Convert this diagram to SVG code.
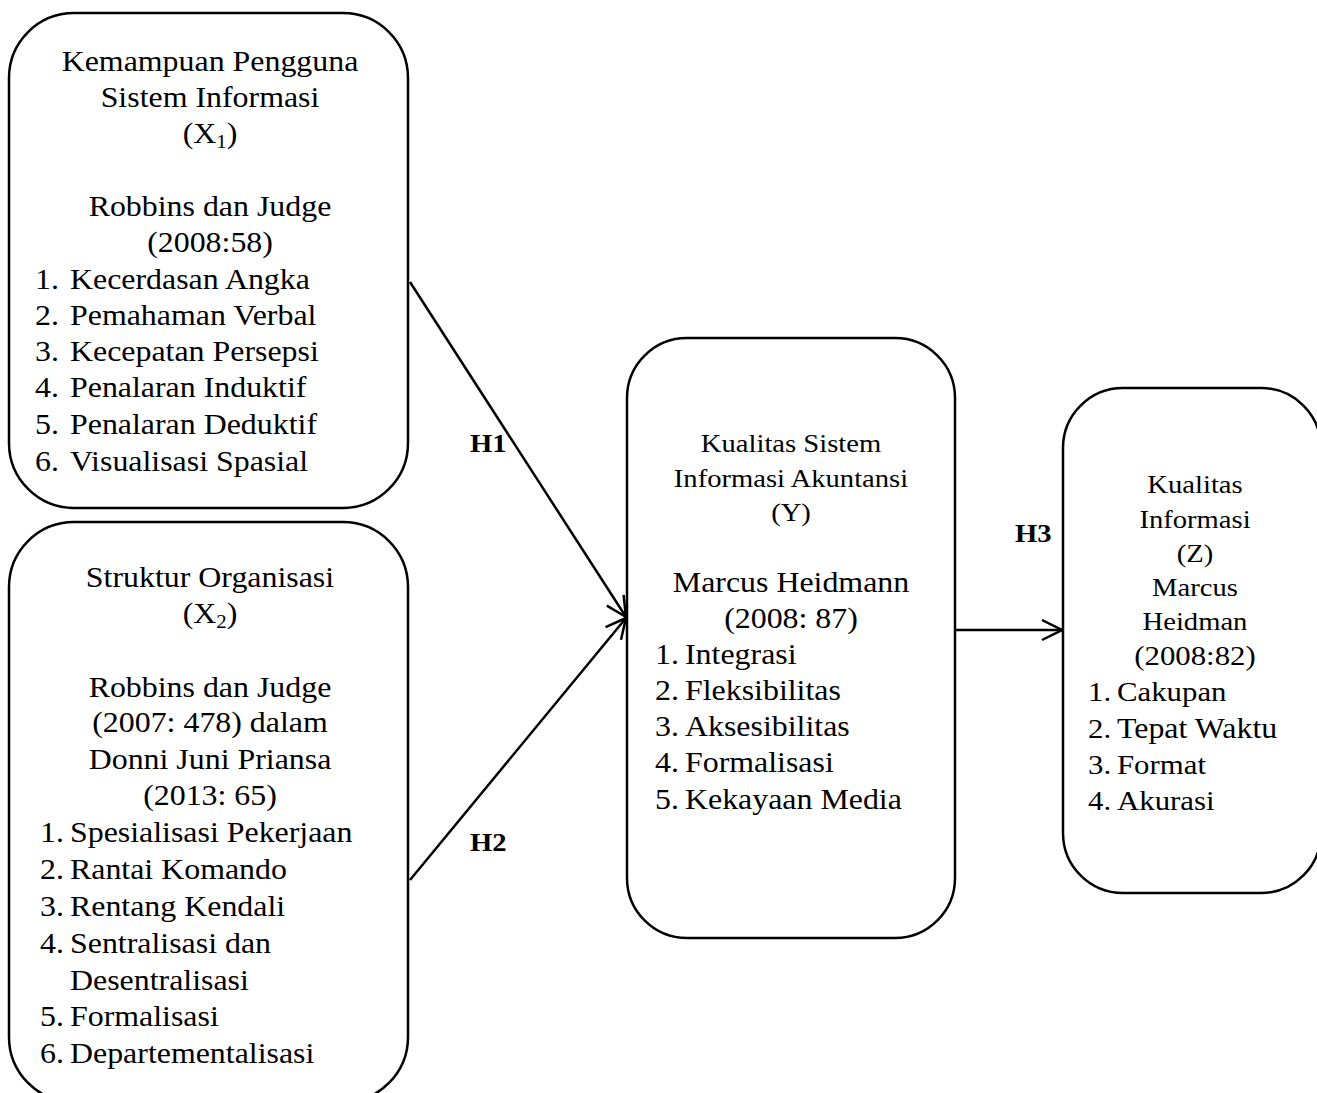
<svg xmlns="http://www.w3.org/2000/svg" width="1317" height="1093" viewBox="0 0 1317 1093">
<defs>
<style>
.box{fill:#fff;stroke:#000;stroke-width:2.5}
.t{font-family:"Liberation Serif","Times New Roman",serif;font-size:29px;fill:#000}
.c{text-anchor:middle}
.s{font-size:26px}
.m{font-size:28px}
.h{font-family:"Liberation Serif","Times New Roman",serif;font-size:26px;font-weight:bold;fill:#000}
.ln{fill:none;stroke:#000;stroke-width:2.5}
</style>
<marker id="arr" viewBox="0 0 24 24" refX="22" refY="12" markerWidth="24" markerHeight="24" markerUnits="userSpaceOnUse" orient="auto">
<path d="M2,2 L22,12 L2,22" fill="none" stroke="#000" stroke-width="2.5"/>
</marker>
</defs>
<g id="connectors">
<line class="ln" x1="410" y1="282" x2="626" y2="617" marker-end="url(#arr)"/>
<line class="ln" x1="410" y1="880" x2="626" y2="618" marker-end="url(#arr)"/>
<line class="ln" x1="955" y1="630" x2="1062" y2="630" marker-end="url(#arr)"/>
<text class="h" transform="matrix(1.1 0 0 1 470 452)">H1</text>
<text class="h" transform="matrix(1.1 0 0 1 470 851)">H2</text>
<text class="h" transform="matrix(1.1 0 0 1 1015 542)">H3</text>
</g>
<g id="node-x1">
<rect class="box" x="9" y="13" width="399" height="495" rx="65" ry="65"/>
<text class="t c" transform="matrix(1.1 0 0 1 210 71)">Kemampuan Pengguna</text>
<text class="t c" transform="matrix(1.1 0 0 1 210 107)">Sistem Informasi</text>
<text class="t c" transform="matrix(1.1 0 0 1 210 143)">(X<tspan font-size="19" dy="5">1</tspan><tspan dy="-5">)</tspan></text>
<text class="t c" transform="matrix(1.1 0 0 1 210 216)">Robbins dan Judge</text>
<text class="t c" transform="matrix(1.1 0 0 1 210 252)">(2008:58)</text>
<text class="t" transform="matrix(1.1 0 0 1 35 289)">1.</text><text class="t" transform="matrix(1.1 0 0 1 70 289)">Kecerdasan Angka</text>
<text class="t" transform="matrix(1.1 0 0 1 35 325)">2.</text><text class="t" transform="matrix(1.1 0 0 1 70 325)">Pemahaman Verbal</text>
<text class="t" transform="matrix(1.1 0 0 1 35 361)">3.</text><text class="t" transform="matrix(1.1 0 0 1 70 361)">Kecepatan Persepsi</text>
<text class="t" transform="matrix(1.1 0 0 1 35 397)">4.</text><text class="t" transform="matrix(1.1 0 0 1 70 397)">Penalaran Induktif</text>
<text class="t" transform="matrix(1.1 0 0 1 35 434)">5.</text><text class="t" transform="matrix(1.1 0 0 1 70 434)">Penalaran Deduktif</text>
<text class="t" transform="matrix(1.1 0 0 1 35 471)">6.</text><text class="t" transform="matrix(1.1 0 0 1 70 471)">Visualisasi Spasial</text>
</g>
<g id="node-x2">
<rect class="box" x="9" y="522" width="399" height="580" rx="65" ry="65"/>
<text class="t c" transform="matrix(1.1 0 0 1 210 587)">Struktur Organisasi</text>
<text class="t c" transform="matrix(1.1 0 0 1 210 623)">(X<tspan font-size="19" dy="5">2</tspan><tspan dy="-5">)</tspan></text>
<text class="t c" transform="matrix(1.1 0 0 1 210 697)">Robbins dan Judge</text>
<text class="t c" transform="matrix(1.1 0 0 1 210 732)">(2007: 478) dalam</text>
<text class="t c" transform="matrix(1.1 0 0 1 210 769)">Donni Juni Priansa</text>
<text class="t c" transform="matrix(1.1 0 0 1 210 805)">(2013: 65)</text>
<text class="t" transform="matrix(1.1 0 0 1 40 842)">1.</text><text class="t" transform="matrix(1.1 0 0 1 70 842)">Spesialisasi Pekerjaan</text>
<text class="t" transform="matrix(1.1 0 0 1 40 879)">2.</text><text class="t" transform="matrix(1.1 0 0 1 70 879)">Rantai Komando</text>
<text class="t" transform="matrix(1.1 0 0 1 40 916)">3.</text><text class="t" transform="matrix(1.1 0 0 1 70 916)">Rentang Kendali</text>
<text class="t" transform="matrix(1.1 0 0 1 40 953)">4.</text><text class="t" transform="matrix(1.1 0 0 1 70 953)">Sentralisasi dan</text>
<text class="t" transform="matrix(1.1 0 0 1 70 990)">Desentralisasi</text>
<text class="t" transform="matrix(1.1 0 0 1 40 1026)">5.</text><text class="t" transform="matrix(1.1 0 0 1 70 1026)">Formalisasi</text>
<text class="t" transform="matrix(1.1 0 0 1 40 1063)">6.</text><text class="t" transform="matrix(1.1 0 0 1 70 1063)">Departementalisasi</text>
</g>
<g id="node-y">
<rect class="box" x="627" y="338" width="328" height="600" rx="60" ry="60"/>
<text class="t c s" transform="matrix(1.1 0 0 1 791 452)">Kualitas Sistem</text>
<text class="t c s" transform="matrix(1.1 0 0 1 791 487)">Informasi Akuntansi</text>
<text class="t c s" transform="matrix(1.1 0 0 1 791 521)">(Y)</text>
<text class="t c" transform="matrix(1.1 0 0 1 791 592)">Marcus Heidmann</text>
<text class="t c" transform="matrix(1.1 0 0 1 791 628)">(2008: 87)</text>
<text class="t" transform="matrix(1.1 0 0 1 655 664)">1.</text><text class="t" transform="matrix(1.1 0 0 1 685 664)">Integrasi</text>
<text class="t" transform="matrix(1.1 0 0 1 655 700)">2.</text><text class="t" transform="matrix(1.1 0 0 1 685 700)">Fleksibilitas</text>
<text class="t" transform="matrix(1.1 0 0 1 655 736)">3.</text><text class="t" transform="matrix(1.1 0 0 1 685 736)">Aksesibilitas</text>
<text class="t" transform="matrix(1.1 0 0 1 655 772)">4.</text><text class="t" transform="matrix(1.1 0 0 1 685 772)">Formalisasi</text>
<text class="t" transform="matrix(1.1 0 0 1 655 809)">5.</text><text class="t" transform="matrix(1.1 0 0 1 685 809)">Kekayaan Media</text>
</g>
<g id="node-z">
<rect class="box" x="1063" y="388" width="258" height="505" rx="60" ry="60"/>
<text class="t c s" transform="matrix(1.1 0 0 1 1195 493)">Kualitas</text>
<text class="t c s" transform="matrix(1.1 0 0 1 1195 528)">Informasi</text>
<text class="t c s" transform="matrix(1.1 0 0 1 1195 562)">(Z)</text>
<text class="t c s" transform="matrix(1.1 0 0 1 1195 596)">Marcus</text>
<text class="t c s" transform="matrix(1.1 0 0 1 1195 630)">Heidman</text>
<text class="t c m" transform="matrix(1.1 0 0 1 1195 665)">(2008:82)</text>
<text class="t m" transform="matrix(1.1 0 0 1 1088 701)">1.</text><text class="t m" transform="matrix(1.1 0 0 1 1117 701)">Cakupan</text>
<text class="t m" transform="matrix(1.1 0 0 1 1088 738)">2.</text><text class="t" transform="matrix(1.1 0 0 1 1117 738)">Tepat Waktu</text>
<text class="t m" transform="matrix(1.1 0 0 1 1088 774)">3.</text><text class="t m" transform="matrix(1.1 0 0 1 1117 774)">Format</text>
<text class="t m" transform="matrix(1.1 0 0 1 1088 810)">4.</text><text class="t m" transform="matrix(1.1 0 0 1 1117 810)">Akurasi</text>
</g>
</svg>
